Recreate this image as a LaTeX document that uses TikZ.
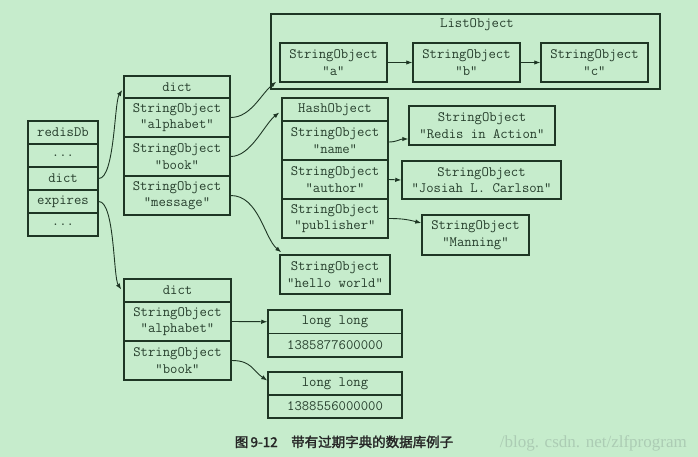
\documentclass[tikz,border=0pt]{standalone}
\usepackage{fontspec}
\newfontfamily\cjk[AutoFakeBold=2]{Noto Sans CJK SC}
\newfontfamily\wmfont{Liberation Serif}
\usetikzlibrary{arrows.meta,calc}
\definecolor{bg}{RGB}{198,236,204}
\definecolor{ln}{RGB}{30,54,36}
\definecolor{tx}{RGB}{38,62,44}
\definecolor{wm}{RGB}{172,204,180}
\begin{document}
\begin{tikzpicture}[x=1pt,y=-1pt,
  cell/.style={draw=ln, line width=1.5pt, inner sep=0pt, align=center, text=tx,
    font=\ttfamily\fontsize{14.3}{16.5}\selectfont},
  lbl/.style={inner sep=0pt, text=tx, font=\ttfamily\fontsize{14.3}{16.5}\selectfont},
  conn/.style={draw=ln, line width=0.9pt, -{Latex[length=6pt,width=4.5pt]}}]
\fill[bg] (0,0) rectangle (698,457);
\useasboundingbox (0,0) rectangle (698,457);

% redisDb
\node[cell, minimum width=70pt, minimum height=23pt] (rdb0) at (63,132.5) {redisDb};
\node[cell, minimum width=70pt, minimum height=23pt] (rdb1) at (63,155.5) {...};
\node[cell, minimum width=70pt, minimum height=23pt] (rdb2) at (63,178.5) {dict};
\node[cell, minimum width=70pt, minimum height=23pt] (rdb3) at (63,201.5) {expires};
\node[cell, minimum width=70pt, minimum height=23pt] (rdb4) at (63,224.5) {...};

% dict 1
\node[cell, minimum width=106pt, minimum height=22pt] (d1h) at (177,87) {dict};
\node[cell, minimum width=106pt, minimum height=39pt] (d1a) at (177,117.5) {StringObject\\"alphabet"};
\node[cell, minimum width=106pt, minimum height=39pt] (d1b) at (177,156.5) {StringObject\\"book"};
\node[cell, minimum width=106pt, minimum height=39pt] (d1c) at (177,195.5) {StringObject\\"message"};

% ListObject
\node[cell, minimum width=389pt, minimum height=75pt] (lo) at (465.5,51.5) {};
\node[lbl] (lot) at (477,25) {ListObject};
\node[cell, minimum width=107pt, minimum height=39pt] (la) at (333.5,62.5) {StringObject\\"a"};
\node[cell, minimum width=107pt, minimum height=39pt] (lb) at (466.5,62.5) {StringObject\\"b"};
\node[cell, minimum width=107pt, minimum height=39pt] (lc) at (594.5,62.5) {StringObject\\"c"};

% HashObject
\node[cell, minimum width=106pt, minimum height=23pt] (hh) at (335,109.5) {HashObject};
\node[cell, minimum width=106pt, minimum height=39pt] (hn) at (335,140.5) {StringObject\\"name"};
\node[cell, minimum width=106pt, minimum height=39pt] (hau) at (335,179.5) {StringObject\\"author"};
\node[cell, minimum width=106pt, minimum height=39pt] (hp) at (335,218.5) {StringObject\\"publisher"};

\node[cell, minimum width=146pt, minimum height=39pt] (ra) at (482,125.5) {StringObject\\"Redis in Action"};
\node[cell, minimum width=159pt, minimum height=38pt] (jo) at (481.5,180) {StringObject\\"Josiah L. Carlson"};
\node[cell, minimum width=107pt, minimum height=40pt] (ma) at (475.5,235) {StringObject\\"Manning"};
\node[cell, minimum width=110pt, minimum height=39pt] (hw) at (335,274.5) {StringObject\\"hello world"};

% dict 2
\node[cell, minimum width=107pt, minimum height=23pt] (d2h) at (177.5,290.5) {dict};
\node[cell, minimum width=107pt, minimum height=39pt] (d2a) at (177.5,321.5) {StringObject\\"alphabet"};
\node[cell, minimum width=107pt, minimum height=39pt] (d2b) at (177.5,360.5) {StringObject\\"book"};

% long long
\node[cell, minimum width=134pt, minimum height=23.5pt] (l1a) at (335,321.75) {long long};
\node[cell, minimum width=134pt, minimum height=23.5pt] (l1b) at (335,345.25) {1385877600000};
\node[cell, minimum width=134pt, minimum height=23pt] (l2a) at (335,383.5) {long long};
\node[cell, minimum width=134pt, minimum height=23pt] (l2b) at (335,406.5) {1388556000000};

% connectors
\draw[conn] (rdb2.east) .. controls +(16,0) and +(-8,12) .. ([shift={(-1,3)}]d1h.west);
\draw[conn] (rdb3.east) .. controls +(16,0) and +(-8,-12) .. ([shift={(-2,-1)}]d2h.west);
\draw[conn] (d1a.east) .. controls +(20,0) and +(-15,12) .. ([shift={(-3,-1)}]la.south west);
\draw[conn] (d1b.east) .. controls +(20,0) and +(-15,12) .. ([shift={(-2,3)}]hh.west);
\draw[conn] (d1c.east) .. controls +(28,0) and +(-17,-14) .. ([shift={(2,-2)}]hw.north west);
\draw[conn] (la.east) -- (lb.west);
\draw[conn] (lb.east) -- (lc.west);
\draw[conn] ([shift={(0,1.5)}]hn.east) .. controls +(8,0) and +(-8,0) .. ([shift={(0,13.5)}]ra.west);
\draw[conn] (hau.east) -- (jo.west);
\draw[conn] (hp.east) .. controls +(15,0) and +(-12,-3) .. ([shift={(0,-12)}]ma.west);
\draw[conn] (d2a.east) -- (l1a.west);
\draw[conn] (d2b.east) .. controls +(20,0) and +(-15,-10) .. ([shift={(0,-3)}]l2a.west);

% caption and watermark
\node[anchor=base east, inner sep=0pt, text=wm, font=\wmfont\fontsize{17}{17}\selectfont] (wmk) at (687,447) {/blog. csdn. net/zlfprogram};
\node[anchor=base, inner sep=0pt, text=black!85, font=\cjk\bfseries\fontsize{13.5}{14}\selectfont] (cap) at (344,447) {图\,9-12\quad 带有过期字典的数据库例子};
\end{tikzpicture}
\end{document}
